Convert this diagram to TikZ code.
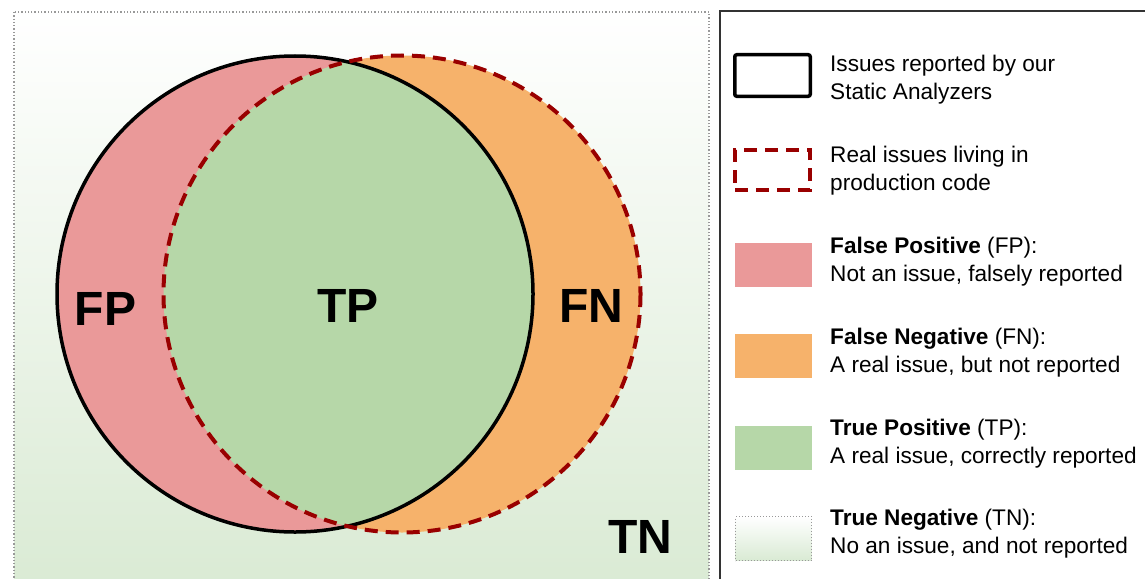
\documentclass[tikz,border=0pt]{standalone}
\usepackage{fontspec}
\setmainfont{Liberation Sans}
\definecolor{fppink}{HTML}{EA9999}
\definecolor{fnorange}{HTML}{F6B26B}
\definecolor{tpgreen}{HTML}{B6D7A8}
\definecolor{tngreen}{HTML}{D9EAD3}
\definecolor{realred}{HTML}{990000}
\definecolor{boxgray}{HTML}{333333}

\begin{document}
\begin{tikzpicture}[x=1pt, y=-1pt,
    reported/.style={draw=black, line width=3.5pt},
    realline/.style={draw=realred, line width=4pt, dash pattern=on 13pt off 8pt},
    tnshade/.style={top color=white, middle color=white, bottom color=tngreen},
    swatch/.style={minimum width=77pt, minimum height=44pt, inner sep=0pt},
    letters/.style={font=\fontsize{48}{48}\selectfont\bfseries},
    legtext/.style={font=\fontsize{22.6}{27.5}\selectfont, align=left,
                    anchor=base west, inner sep=0pt}]
  \path[use as bounding box, clip] (0,0) rectangle (1145,578);

  % frame of all issues and the legend box
  \path[tnshade] (14,12) rectangle (709,600);
  \draw[gray!80, line width=1.3pt, dotted] (14,12) rectangle (709,600);
  \draw[boxgray, line width=2pt] (720,11) rectangle (1160,600);

  \coordinate (crep)  at (295,294);
  \coordinate (creal) at (402,294);

  % the two sets
  \fill[fnorange] (creal) circle (238.5);
  \fill[fppink]   (crep)  circle (238);
  \begin{scope}
    \clip (crep) circle (238);
    \fill[tpgreen] (creal) circle (238.5);
  \end{scope}
  \draw[reported] (crep)  circle (238);
  \draw[realline] (creal) circle (238.5);

  \node[letters] (fp) at (105.5,309) {FP};
  \node[letters] (tp) at (348,305.5) {TP};
  \node[letters] (fn) at (591,305.5) {FN};
  \node[letters] (tn) at (640.5,537) {TN};

  % legend
  \node[swatch, reported, rounded corners=2pt, minimum width=75.5pt,
        minimum height=41.5pt] (swrep) at (772.5,75.5) {};
  \node[swatch, realline, minimum width=75pt,
        minimum height=40pt] (swreal) at (772.5,170) {};
  \node[swatch, fill=fppink]   (swfp) at (773.5,265)   {};
  \node[swatch, fill=fnorange] (swfn) at (773.5,356)   {};
  \node[swatch, fill=tpgreen]  (swtp) at (773.5,447.5) {};
  \node[swatch, tnshade, draw=gray!80, dotted, line width=1pt,
        minimum width=76pt, minimum height=44pt] (swtn) at (773.5,538.5) {};

  % base anchor sits on the last line
  \node[legtext] (txrep)  at (830,99)  {Issues reported by our\\Static Analyzers};
  \node[legtext] (txreal) at (830,190) {Real issues living in\\production code};
  \node[legtext] (txfp)   at (830,281) {\textbf{False Positive} (FP):\\Not an issue, falsely reported};
  \node[legtext] (txfn)   at (830,372) {\textbf{False Negative} (FN):\\A real issue, but not reported};
  \node[legtext] (txtp)   at (830,463) {\textbf{True Positive} (TP):\\A real issue, correctly reported};
  \node[legtext] (txtn)   at (830,553) {\textbf{True Negative} (TN):\\No an issue, and not reported};
\end{tikzpicture}
\end{document}
